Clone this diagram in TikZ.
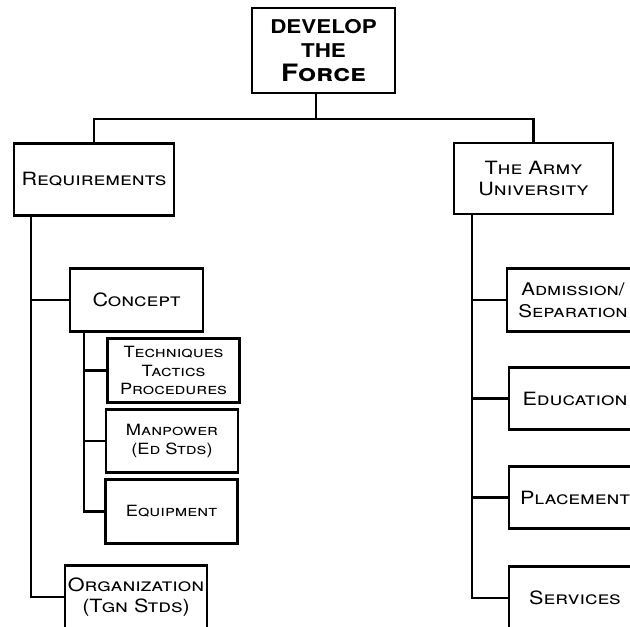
\documentclass[tikz,border=0pt]{standalone}
\usepackage{fontspec}
\setmainfont{TeX Gyre Heros}[FakeStretch=1.18]
\usepackage{tikz}

\begin{document}
\begin{tikzpicture}[x=0.025cm, y=-0.025cm,
  box/.style={draw, line width=2pt, fill=white, align=center, font=\fontsize{13}{15.5}\selectfont\scshape, inner sep=2pt},
  topbox/.style={box, minimum width=3.575cm, minimum height=2.125cm, font=\fontsize{13.5}{17}\selectfont\bfseries},
  mainbox/.style={box, minimum width=4cm, minimum height=1.8cm},
  midbox/.style={box, minimum width=3.325cm, minimum height=1.56cm},
  subbox/.style={box, minimum width=3.3cm, minimum height=1.58cm, font=\fontsize{11}{13}\selectfont\scshape},
  line/.style={line width=1.6pt}
]
  \clip (0,0) rectangle (630,626);

  % Top
  \node[topbox] (develop) at (323.5,50.5) {DEVELOP\\THE\\{\fontsize{17}{17}\selectfont\scshape Force}};

  % Second level
  \node[mainbox] (req) at (94,179.5) {Requirements};
  \node[mainbox, minimum width=3.975cm, minimum height=1.775cm] (army) at (533.5,178.5) {The Army\\University};

  % Requirements side
  \node[midbox] (concept) at (136.5,300) {Concept};
  \node[subbox] (ttp) at (173.5,370.5) {Techniques\\Tactics\\Procedures};
  \node[subbox] (manpower) at (172,441) {Manpower\\(Ed Stds)};
  \node[subbox] (equip) at (171.5,511.5) {Equipment};
  \node[midbox, minimum width=3.35cm] (org) at (136,597) {Organization\\(Tgn Stds)};

  % University side
  \node[midbox, minimum width=3.3cm, font=\fontsize{12.4}{15.5}\selectfont\scshape] (admit) at (573,300) {Admission/\\Separation};
  \node[midbox, minimum width=3.3cm] (educ) at (575,398.5) {Education};
  \node[midbox, minimum width=3.3cm] (place) at (575,497.5) {Placement};
  \node[midbox, minimum width=3.3cm] (serv) at (575,598) {Services};

  % Trunks
  \coordinate (bus) at (316,119);
  \coordinate (ltrunk) at (31,0);
  \coordinate (ctrunk) at (84,0);
  \coordinate (rtrunk) at (472,0);

  % Connectors
  \draw[line] (develop.south -| bus) -- (bus);
  \draw[line] (req.north) |- (bus) -| (army.north);
  \draw[line] (ltrunk |- req.south) |- (org.west);
  \draw[line] (ltrunk |- concept.west) -- (concept.west);
  \draw[line] (ctrunk |- concept.south) |- (equip.west);
  \draw[line] (ctrunk |- ttp.west) -- (ttp.west);
  \draw[line] (ctrunk |- manpower.west) -- (manpower.west);
  \draw[line] (rtrunk |- army.south) |- (serv.west);
  \draw[line] (rtrunk |- admit.west) -- (admit.west);
  \draw[line] (rtrunk |- educ.west) -- (educ.west);
  \draw[line] (rtrunk |- place.west) -- (place.west);
\end{tikzpicture}
\end{document}
